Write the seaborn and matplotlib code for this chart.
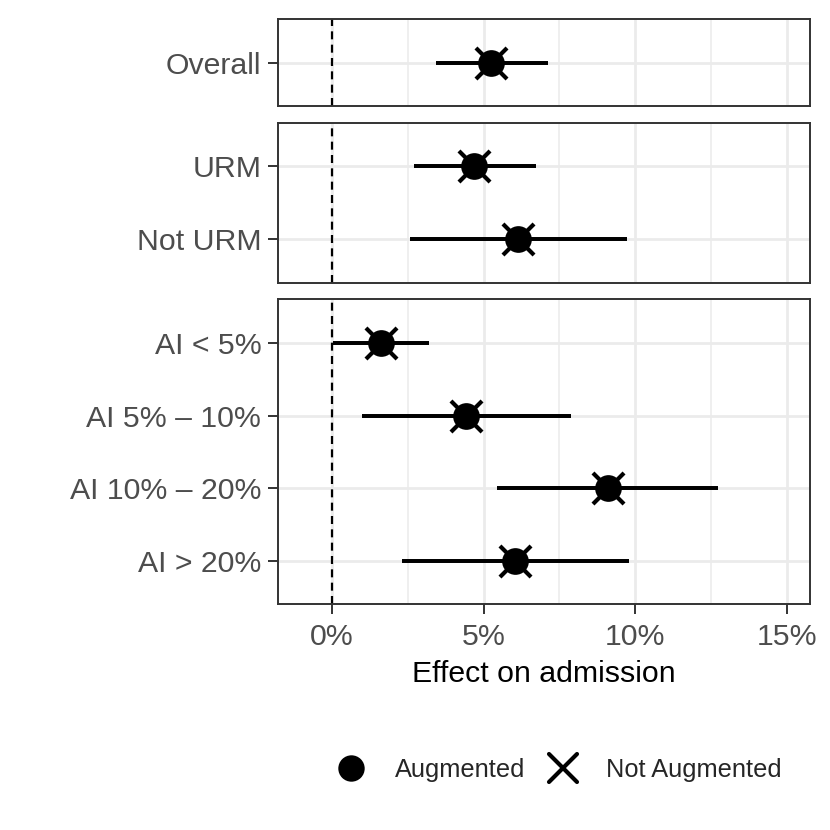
import matplotlib
matplotlib.use("Agg")
import matplotlib.pyplot as plt
from matplotlib.lines import Line2D
from matplotlib.markers import MarkerStyle
from matplotlib.ticker import FuncFormatter
import seaborn as sns
import pandas as pd

sns.set_theme(style="white")
plt.rcParams['font.family'] = ['Liberation Sans', 'DejaVu Sans']

# ---- data ----
panel_overall = ["Overall"]
panel_urm = ["URM", "Not URM"]
panel_ai = ["AI < 5%", "AI 5% \u2013 10%", "AI 10% \u2013 20%", "AI > 20%"]

estimate = [5.26, 4.70, 6.14, 1.62, 4.41, 9.10, 6.04]
ci_low = [3.42, 2.70, 2.59, 0.03, 1.00, 5.43, 2.32]
ci_high = [7.12, 6.73, 9.72, 3.20, 7.87, 12.75, 9.79]
types = ["Augmented", "Not Augmented"]
xticks = [0, 5, 10, 15]
xlabel = "Effect on admission"

panels = [panel_overall, panel_urm, panel_ai]
rows = []
k = 0
for pi, labs in enumerate(panels):
    for li, lab in enumerate(labs):
        for t in types:
            rows.append(dict(panel=pi, label=lab, pos=li, est=estimate[k],
                             lo=ci_low[k], hi=ci_high[k], type=t))
        k += 1
df = pd.DataFrame(rows)

fig = plt.figure(figsize=(8.3, 8.3), dpi=100)
ratios = [len(p) + 0.2 for p in panels]
gs = fig.add_gridspec(3, 1, height_ratios=ratios, hspace=0.09,
                      left=278/830, right=810/830, top=1-19/830, bottom=1-604.5/830)

grid_col = "#EBEBEB"
dark = "#333333"
fs = 21.8
xmark = MarkerStyle("x", capstyle="round")
for pi, labs in enumerate(panels):
    ax = fig.add_subplot(gs[pi])
    sub = df[df.panel == pi]
    n = len(labs)
    for gx in [2.5, 7.5, 12.5]:
        ax.axvline(gx, color=grid_col, lw=1.1, zorder=0)
    for gx in xticks:
        ax.axvline(gx, color=grid_col, lw=2.0, zorder=0)
    for p in range(n):
        ax.axhline(p, color=grid_col, lw=2.0, zorder=0)
    ax.axvline(0, color="black", lw=1.6, ls=(0, (3.6, 2.4)), zorder=1)
    for t in types:
        s = sub[sub.type == t]
        ax.hlines(s.pos, s.lo, s.hi, color="black", lw=2.7, zorder=2)
    sns.scatterplot(data=sub[sub.type == "Not Augmented"], x="est", y="pos",
                    marker=xmark, s=500, color="black", linewidth=3.0, ax=ax,
                    zorder=3, legend=False)
    sns.scatterplot(data=sub[sub.type == "Augmented"], x="est", y="pos",
                    marker="o", s=370, color="black", linewidth=0, ax=ax,
                    zorder=4, legend=False)
    ax.set_xlim(-1.78, 15.77)
    ax.set_ylim(n - 0.4, -0.6)
    ax.set_yticks(range(n))
    ax.set_yticklabels(labs)
    ax.set_ylabel("")
    ax.set_xticks(xticks)
    ax.xaxis.set_major_formatter(FuncFormatter(lambda v, p: f"{v:.0f}%"))
    for sp in ax.spines.values():
        sp.set_color(dark)
        sp.set_linewidth(1.4)
    ax.tick_params(axis="y", which="major", left=True, length=7, width=1.4,
                   color=dark, labelsize=fs, labelcolor="#4D4D4D", pad=5)
    if pi == 2:
        ax.tick_params(axis="x", bottom=True, length=7, width=1.4, color=dark,
                       labelsize=fs, labelcolor="#4D4D4D", pad=6)
        ax.set_xlabel(xlabel, fontsize=fs, color="black", labelpad=7)
    else:
        ax.tick_params(axis="x", bottom=False, labelbottom=False)
        ax.set_xlabel("")
    ax.grid(False)

handles = [Line2D([], [], marker="o", color="black", ls="", markersize=19, mew=0),
           Line2D([], [], marker=xmark, color="black", ls="", markersize=20, mew=3.0)]
fig.legend(handles, types, loc="center", bbox_to_anchor=(557/830, 1-770/830), ncol=2,
           frameon=False, fontsize=18.3, handletextpad=0.95, columnspacing=0.75,
           handlelength=1.5)

fig.savefig("out.png", dpi=100)
